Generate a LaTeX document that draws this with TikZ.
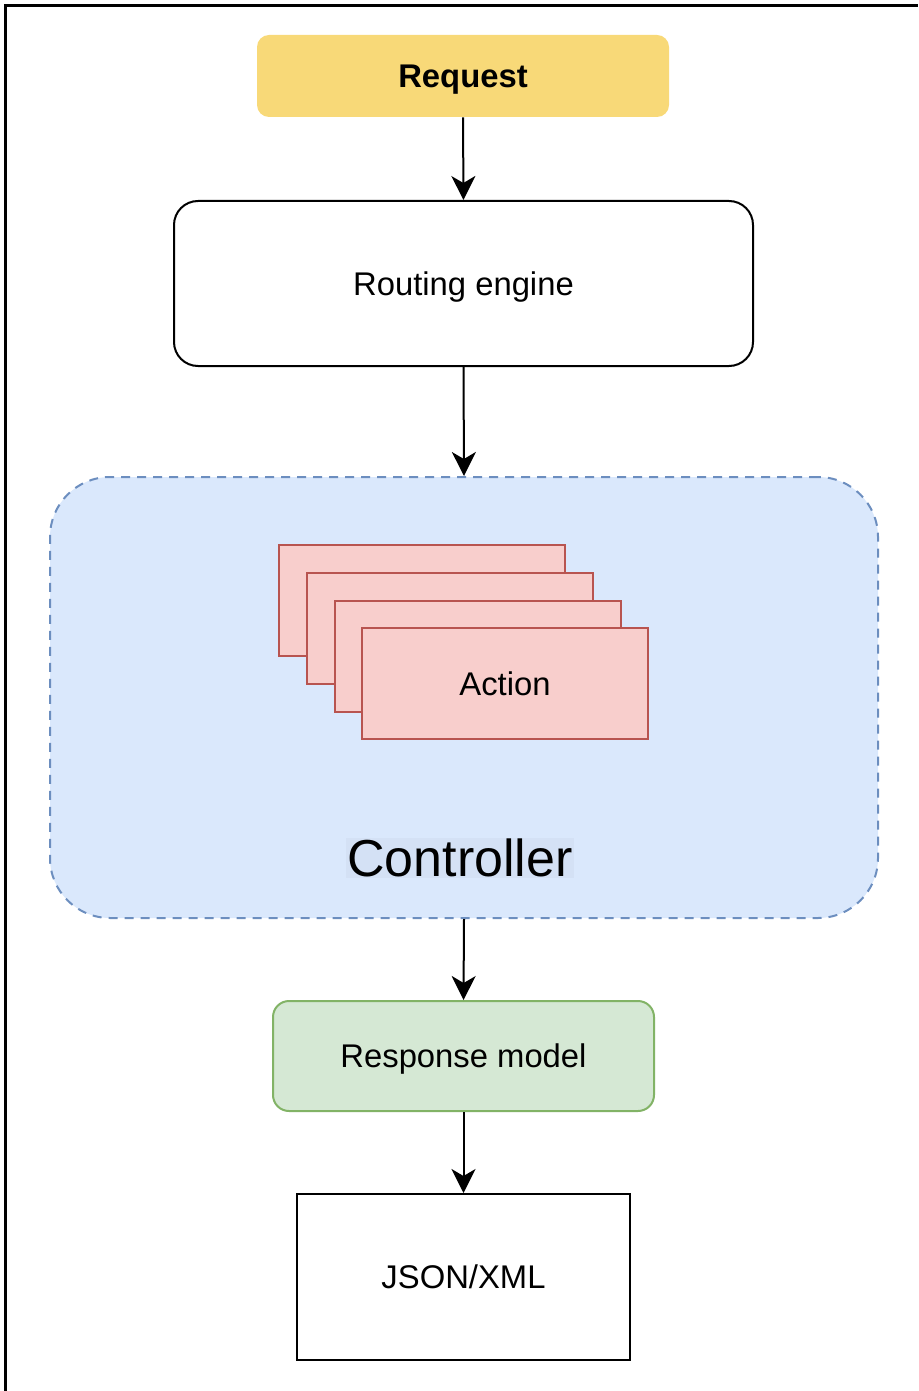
\documentclass[tikz,border=0pt]{standalone}
\usepackage{fontspec}
\setmainfont{Liberation Sans}
\usetikzlibrary{arrows.meta}
\definecolor{reqfill}{HTML}{F8D978}
\definecolor{ctrlfill}{HTML}{DAE8FC}
\definecolor{ctrlline}{HTML}{6C8EBF}
\definecolor{ctrllab}{HTML}{D4E1F5}
\definecolor{actfill}{HTML}{F8CECC}
\definecolor{actline}{HTML}{B85450}
\definecolor{respfill}{HTML}{D5E8D4}
\definecolor{respline}{HTML}{82B366}
\tikzset{
  txt/.style={font=\fontsize{16.4}{19}\selectfont, text=black, inner sep=0pt, text depth=0pt},
  box/.style={txt, draw, line width=1pt, minimum width=#1},
  actbox/.style={draw=actline, fill=actfill, line width=1pt, minimum width=143pt, minimum height=55.5pt, inner sep=0pt},
  arr/.style={line width=1pt, -{Stealth[length=12pt, width=12pt, inset=3.5pt]}}
}
\begin{document}
\begin{tikzpicture}[x=0.5pt, y=-0.5pt]
\useasboundingbox (0,0) rectangle (918,1391);
\draw[line width=1.5pt] (5,1391) -- (5,6) -- (918,6);

\node[txt, fill=reqfill, rounded corners=6pt, minimum width=206pt, minimum height=41pt, font=\fontsize{16.4}{19}\selectfont\bfseries] (req) at (463,76) {Request};
\node[box=289.5pt, minimum height=82.5pt, rounded corners=12pt] (route) at (463.5,283.5) {Routing engine};
\node[draw=ctrlline, fill=ctrlfill, line width=1pt, dash pattern=on 4.5pt off 3.5pt, rounded corners=30pt, minimum width=414pt, minimum height=220.5pt, inner sep=0pt] (ctrl) at (464,697.5) {};
\node[actbox] (a1) at (422,600.5) {};
\node[actbox] (a2) at (449.5,628.5) {};
\node[actbox] (a3) at (477.5,656.5) {};
\node[actbox, txt] (a4) at (505,683.5) {Action};
\node[fill=ctrllab, text=black, font=\fontsize{26}{30}\selectfont, inner sep=0.5pt] (clab) at (460,858) {Controller};
\node[txt, draw=respline, fill=respfill, line width=1pt, rounded corners=8pt, minimum width=190.5pt, minimum height=55pt] (resp) at (463.5,1056) {Response model};
\node[box=166.5pt, minimum height=83pt] (json) at (463.5,1277) {JSON/XML};

\draw[arr] (req.south) -- (route.north);
\draw[arr] (route.south) -- (ctrl.north);
\draw[arr] (ctrl.south) -- (resp.north);
\draw[arr] (resp.south) -- (json.north);
\end{tikzpicture}
\end{document}
